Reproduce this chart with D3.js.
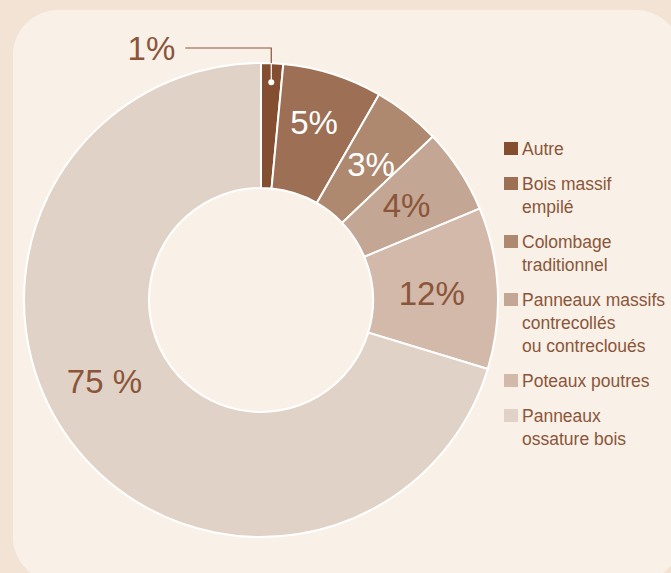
<!DOCTYPE html>
<html>
<head>
<meta charset="utf-8">
<script src="https://cdn.jsdelivr.net/npm/d3@7"></script>
<style>
  body { margin: 0; background: #f3e3d5; }
  text { font-family: "Liberation Sans", Arial, Helvetica, sans-serif; }
</style>
</head>
<body>
<div id="datavis"></div>
<script>
// data
let categories = ["Autre", "Bois massif\nempilé", "Colombage\ntraditionnel",
  "Panneaux massifs\ncontrecollés\nou contrecloués", "Poteaux poutres", "Panneaux\nossature bois"]
let shares = [1.5, 6.8, 4.6, 5.8, 11.0, 70.3]   // slice sizes as drawn
let pctLabels = ["1%", "5%", "3%", "4%", "12%", "75 %"]

let colors = ["#834f30", "#9d6f55", "#ae8970", "#c4a694", "#d3b9aa", "#e1d2c7"]
let labelColors = ["#8b553a", "#ffffff", "#ffffff", "#8b553a", "#8b553a", "#8b553a"]
let labelNudge = [[0, 0], [0, -11], [2, 2], [-1, 1], [-4, 2], [-16, -23]]

let width = 671,
    height = 573,
    cx = 261,
    cy = 300,
    outerR = 237,
    innerR = 112

let svg = d3.select('#datavis')
  .append('svg')
    .attr('width', width)
    .attr('height', height)

// panel
svg.append('rect')
  .attr('x', 13).attr('y', 10)
  .attr('width', 668).attr('height', 572)
  .attr('rx', 45)
  .attr('fill', '#f9f1e7')

let g = svg.append('g')
  .attr('transform', `translate(${cx},${cy})`)

let data = categories.map((c, i) => ({key: c, value: shares[i], i: i}))

let pie = d3.pie()
  .sort(null)
  .value(d => d.value)
let data_ready = pie(data)

let arc = d3.arc()
  .innerRadius(innerR)
  .outerRadius(outerR)

let labelArc = d3.arc()
  .innerRadius(175)
  .outerRadius(175)

let dotArc = d3.arc()
  .innerRadius(218)
  .outerRadius(218)

g.selectAll('allSlices')
  .data(data_ready)
  .enter()
  .append('path')
  .attr('d', arc)
  .attr('fill', d => colors[d.data.i])
  .attr('stroke', 'white')
  .style('stroke-width', '2px')

// labels inside the ring (the first one goes outside)
g.selectAll('allLabels')
  .data(data_ready.slice(1))
  .enter()
  .append('text')
    .text(d => pctLabels[d.data.i])
    .attr('x', d => labelArc.centroid(d)[0] + labelNudge[d.data.i][0])
    .attr('y', d => labelArc.centroid(d)[1] + labelNudge[d.data.i][1])
    .attr('dy', '0.35em')
    .attr('text-anchor', 'middle')
    .attr('fill', d => labelColors[d.data.i])
    .style('font-size', '33px')

// leader for the small slice
let small = data_ready[0]
let p = dotArc.centroid(small)
let topY = -outerR - 15
let edgeY = -Math.sqrt(outerR * outerR - p[0] * p[0])
g.append('polyline')
  .attr('points', [[p[0], edgeY], [p[0], topY], [p[0] - 86, topY]])
  .attr('fill', 'none')
  .attr('stroke', labelColors[0])
  .attr('stroke-width', 1.2)
g.append('line')
  .attr('x1', p[0]).attr('y1', p[1])
  .attr('x2', p[0]).attr('y2', edgeY)
  .attr('stroke', 'white')
  .attr('stroke-width', 1.2)
g.append('circle')
  .attr('cx', p[0]).attr('cy', p[1])
  .attr('r', 3)
  .attr('fill', 'white')
g.append('text')
  .text(pctLabels[0])
  .attr('x', p[0] - 96)
  .attr('y', topY)
  .attr('dy', '0.35em')
  .attr('text-anchor', 'end')
  .attr('fill', labelColors[0])
  .style('font-size', '33px')

// legend
let legend = svg.append('g')
  .attr('transform', 'translate(504,0)')
let y = 155
categories.forEach((c, i) => {
  let lines = c.split('\n')
  legend.append('rect')
    .attr('x', 0).attr('y', y - 13)
    .attr('width', 14).attr('height', 13)
    .attr('fill', colors[i])
  let t = legend.append('text')
    .attr('x', 18).attr('y', y)
    .attr('fill', '#8b553a')
    .style('font-size', '17.5px')
  lines.forEach((l, j) => {
    t.append('tspan')
      .attr('x', 18)
      .attr('dy', j === 0 ? 0 : 23)
      .text(l)
  })
  y += (lines.length - 1) * 23 + 35
})
</script>
</body>
</html>
